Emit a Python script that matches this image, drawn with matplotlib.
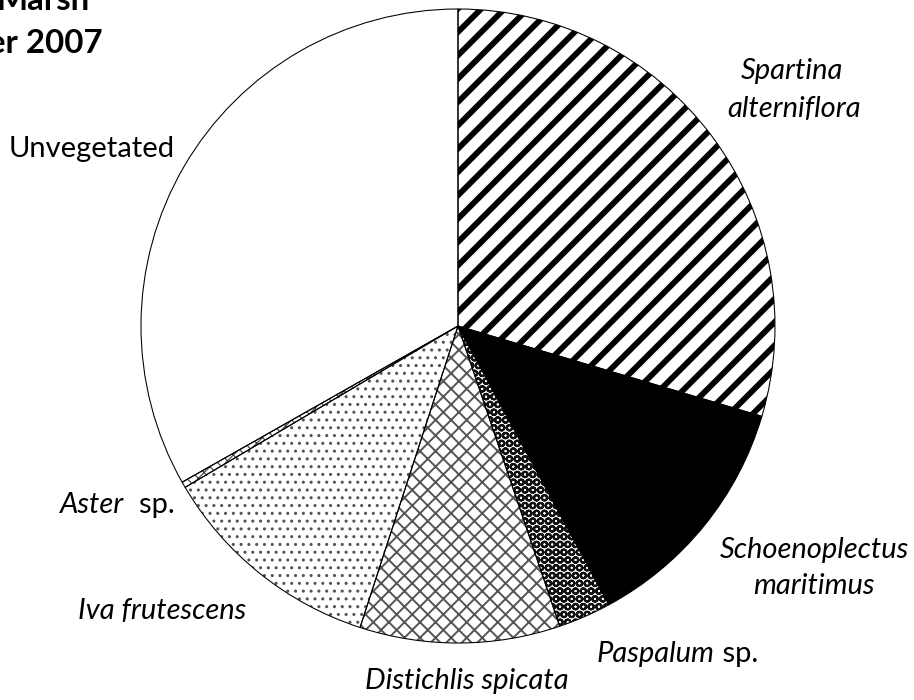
import matplotlib.pyplot as plt

# percent cover, clockwise from 12 o'clock
species = ["Spartina alterniflora", "Schoenoplectus maritimus", "Paspalum sp.",
           "Distichlis spicata", "Iva frutescens", "Aster sp.", "Unvegetated"]
cover = [29.6, 12.5, 2.7, 10.2, 11.5, 0.3, 33.2]
title_lines = ["Marsh", "er 2007"]

# fill styles per slice
face = ["white", "black", "white", "white", "white", "white", "white"]
hatch = ["//", "", "OOO", "xxx", "...", "xxxx", ""]
hatch_col = ["black", "black", "#111111", "#555555", "#555555", "#444444", "black"]
hatch_lw = [3.0, 1.0, 1.1, 1.0, 0.8, 0.6, 1.0]

plt.rcParams["font.family"] = ["Lato", "DejaVu Sans"]

W, H, DPI = 914, 700, 140
fig = plt.figure(figsize=(W / DPI, H / DPI), dpi=DPI)
ax = fig.add_axes([0, 0, 1, 1])

cx, cy, r = 458, H - 326, 317

wedges, _ = ax.pie(cover, startangle=90, counterclock=False, center=(cx, cy),
                   radius=r, colors=face, wedgeprops=dict(linewidth=0))
for w, h, hc, lw in zip(wedges, hatch, hatch_col, hatch_lw):
    w.set_edgecolor(hc)
    w.set_linewidth(0)
    if h:
        w.set_hatch(h)
        w.set_hatch_linewidth(lw)

# outlines drawn on top
ax.pie(cover, startangle=90, counterclock=False, center=(cx, cy), radius=r,
       colors=["none"] * len(cover),
       wedgeprops=dict(edgecolor="black", linewidth=0.55))

ax.set_xlim(0, W)
ax.set_ylim(0, H)
ax.axis("off")

fs = 15
it = dict(fontsize=fs, style="italic", va="baseline")


def mixed(x, y, italic_part, plain_part):
    t = ax.text(x, y, italic_part, ha="left", **it)
    ax.annotate(plain_part, xy=(1, 0), xycoords=t, ha="left", va="bottom",
                fontsize=fs)


ax.text(792, H - 79, "Spartina", ha="center", **it)
ax.text(794, H - 117, "alterniflora", ha="center", **it)
ax.text(814, H - 558, "Schoenoplectus", ha="center", **it)
ax.text(814, H - 594, "maritimus", ha="center", **it)
mixed(597, H - 662, "Paspalum", " sp.")
ax.text(467, H - 689, "Distichlis spicata", ha="center", **it)
ax.text(162, H - 619, "Iva frutescens", ha="center", **it)
mixed(60, H - 513, "Aster", "  sp.")
ax.text(92, H - 157, "Unvegetated", ha="center", va="baseline", fontsize=fs)

# title, cut off by the crop like in the source image
ax.text(90, H - 10, title_lines[0], ha="right", va="baseline",
        fontsize=17, fontweight="bold")
ax.text(103, H - 53, title_lines[1], ha="right", va="baseline",
        fontsize=17, fontweight="bold")

fig.savefig("out.png", dpi=DPI)
